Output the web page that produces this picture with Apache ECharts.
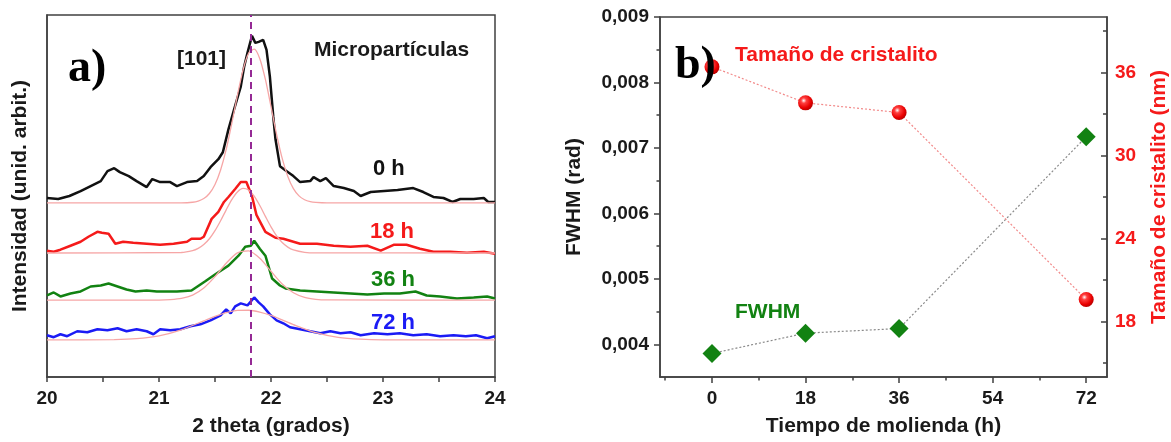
<!DOCTYPE html>
<html><head><meta charset="utf-8">
<script src="https://cdn.jsdelivr.net/npm/echarts@6.0.0/dist/echarts.min.js"></script>
<style>html,body{margin:0;padding:0;background:#fff}#c{width:1171px;height:442px}</style>
</head><body><div id="c"></div>
<script>
// ---------- Panel a) : XRD traces (2θ, intensity a.u.) ----------
const trace0h = [[20.00,180],[20.10,179],[20.20,182],[20.30,187],[20.39,192],[20.48,197],[20.54,207],[20.60,210],[20.65,206],[20.73,202],[20.80,197],[20.89,191],[20.94,199],[21.01,196],[21.10,196],[21.16,192],[21.25,196],[21.34,197],[21.40,202],[21.46,211],[21.53,219],[21.57,226],[21.62,249],[21.67,269],[21.73,292],[21.76,312],[21.79,326],[21.83,343],[21.86,336],[21.89,337],[21.93,339],[21.96,329],[21.99,302],[22.02,262],[22.04,239],[22.08,212],[22.14,207],[22.20,202],[22.26,196],[22.35,197],[22.38,201],[22.44,197],[22.49,200],[22.56,192],[22.65,190],[22.74,187],[22.80,182],[22.89,186],[23.01,187],[23.13,188],[23.27,190],[23.36,186],[23.45,181],[23.54,180],[23.62,176],[23.69,179],[23.81,179],[23.90,180],[23.94,176],[24.00,176]];
const trace18h = [[20.00,127],[20.06,126],[20.12,128],[20.21,132],[20.30,136],[20.37,141],[20.45,146],[20.49,145],[20.55,144],[20.61,134],[20.68,136],[20.77,135],[20.89,134],[21.01,133],[21.13,134],[21.25,136],[21.29,139],[21.37,139],[21.40,141],[21.47,159],[21.53,166],[21.58,176],[21.62,181],[21.68,189],[21.73,196],[21.78,196],[21.83,182],[21.87,163],[21.95,146],[22.04,140],[22.11,139],[22.26,134],[22.41,134],[22.56,132],[22.71,131],[22.86,132],[22.98,127],[23.10,133],[23.21,133],[23.33,129],[23.45,126],[23.60,126],[23.75,125],[23.90,126],[24.00,124]];
const trace36h = [[20.00,82],[20.06,85],[20.12,81],[20.21,84],[20.30,86],[20.39,91],[20.48,92],[20.55,94],[20.63,91],[20.71,88],[20.79,86],[20.89,87],[20.98,86],[21.07,86],[21.16,86],[21.29,87],[21.41,96],[21.50,103],[21.62,112],[21.71,122],[21.77,131],[21.82,132],[21.85,137],[21.90,129],[21.95,122],[22.01,99],[22.08,92],[22.13,89],[22.26,87],[22.41,86],[22.56,85],[22.71,84],[22.86,83],[23.01,84],[23.15,84],[23.29,86],[23.39,82],[23.51,81],[23.66,79],[23.81,80],[23.93,81],[24.00,79]];
const trace72h = [[20.00,42],[20.06,40],[20.12,43],[20.18,41],[20.27,46],[20.36,45],[20.45,48],[20.54,47],[20.63,49],[20.71,46],[20.80,48],[20.89,46],[20.95,43],[21.01,48],[21.10,47],[21.19,48],[21.28,51],[21.37,53],[21.46,57],[21.55,62],[21.60,68],[21.64,64],[21.68,71],[21.73,74],[21.79,72],[21.85,80],[21.89,75],[21.93,71],[21.99,63],[22.05,57],[22.11,54],[22.17,50],[22.26,48],[22.35,46],[22.44,44],[22.53,46],[22.62,44],[22.71,45],[22.80,42],[22.92,44],[23.04,43],[23.15,44],[23.27,42],[23.39,43],[23.51,41],[23.63,42],[23.74,41],[23.83,42],[23.93,39],[24.00,41]];

// fitted peak profiles (pink)
const fit0h = [[20,175],[21.2,175.1],[21.3,175.7],[21.35,176.9],[21.4,179.4],[21.45,184.5],[21.5,193.6],[21.55,208.2],[21.6,228.8],[21.65,255],[21.7,283.2],[21.75,308.6],[21.8,325.5],[21.85,329.7],[21.9,320.1],[21.95,299.2],[22.0,271.9],[22.05,244],[22.1,219.8],[22.15,201.6],[22.2,189.4],[22.25,182.1],[22.3,178.2],[22.35,176.3],[22.4,175.5],[22.5,175],[24,175]];
const fit18h = [[20,124.7],[21.2,125.2],[21.3,127],[21.35,129.3],[21.4,133.2],[21.45,139],[21.5,147.1],[21.55,157.1],[21.6,168.1],[21.65,178.4],[21.7,186.1],[21.75,189.7],[21.8,188.1],[21.85,181.9],[21.9,172.4],[21.95,161.5],[22.0,150.9],[22.05,141.9],[22.1,135.2],[22.15,130.6],[22.2,127.8],[22.3,125.4],[22.4,124.8],[24,124.7]];
const fit36h = [[20,77.3],[21.0,77.4],[21.1,77.8],[21.2,79],[21.3,82.4],[21.4,89.5],[21.5,100.9],[21.6,114.4],[21.7,124.8],[21.8,126.8],[21.9,119.3],[22.0,106.3],[22.1,93.5],[22.2,84.7],[22.3,80],[22.4,78.1],[22.5,77.5],[24,77.3]];
const fit72h = [[20,37.3],[20.6,37.6],[20.8,38.5],[21.0,41.4],[21.2,47.4],[21.4,56.5],[21.5,61],[21.6,64.8],[21.7,66.9],[21.8,67.1],[21.9,65.3],[22.0,61.9],[22.1,57.4],[22.2,52.7],[22.4,44.6],[22.6,39.9],[22.8,38],[23.0,37.4],[24,37.3]];

const peakPosition = 21.82;
const thetaLabels = [20, 21, 22, 23, 24];
const thetaTicks = [20, 20.5, 21, 21.5, 22, 22.5, 23, 23.5, 24];

// ---------- Panel b) : FWHM & crystallite size vs milling time ----------
const hours = [0, 18, 36, 72];
const fwhm = [0.00386, 0.00417, 0.00424, 0.00717];
const crystalSize = [36.4, 33.8, 33.1, 19.6];
const hourTicksMajor = [0, 18, 36, 54, 72];
const hourTicksMinor = [-9, 9, 27, 45, 63];
const fwhmTicksMajor = [0.004, 0.005, 0.006, 0.007, 0.008, 0.009];
const fwhmTicksMinor = [0.0045, 0.0055, 0.0065, 0.0075, 0.0085];
const sizeTicksMajor = [18, 24, 30, 36];
const sizeTicksMinor = [15, 21, 27, 33, 39];

const FONT = 'Liberation Sans';
const AX = '#404040';
const RED = '#f51a1a';
const GREEN = '#128212';
const BLUE = '#1b1bf5';
const FIT = '#f6a6a6';

const tickFont = {fontFamily: FONT, fontWeight: 'bold', fontSize: 19, color: '#1a1a1a'};
const nameFont = {fontFamily: FONT, fontWeight: 'bold', fontSize: 21, color: '#1a1a1a'};
const axLine = {show: true, onZero: false, lineStyle: {color: AX, width: 1.5}};
const noLine = {show: false, onZero: false};

function traceSeries(data, color, extra) {
  return Object.assign({type: 'line', xAxisIndex: 0, yAxisIndex: 0, data: data, showSymbol: false,
    lineStyle: {color: color, width: 2.5}, z: 3, silent: true}, extra || {});
}
function fitSeries(data) {
  return {type: 'line', xAxisIndex: 0, yAxisIndex: 0, data: data, showSymbol: false, smooth: 0.25,
    lineStyle: {color: FIT, width: 1.3}, z: 4, silent: true};
}

const chart = echarts.init(document.getElementById('c'), null, {renderer: 'canvas'});
chart.setOption({
  animation: false,
  backgroundColor: '#fff',
  grid: [
    {left: 47, top: 15, width: 448, height: 364, show: true, borderColor: AX, borderWidth: 1.5, backgroundColor: 'transparent'},
    {left: 660, top: 17, width: 447, height: 363, show: true, borderColor: AX, borderWidth: 1.5, backgroundColor: 'transparent'}
  ],
  xAxis: [
    {type: 'value', gridIndex: 0, position: 'bottom', min: 20, max: 24, axisLine: axLine, splitLine: {show: false},
      axisTick: {customValues: thetaTicks, length: 5, lineStyle: {color: AX, width: 1.5}},
      axisLabel: Object.assign({customValues: thetaLabels, margin: 12}, tickFont),
      name: '2 theta (grados)', nameLocation: 'middle', nameGap: 39, nameTextStyle: nameFont},
    {type: 'value', gridIndex: 1, position: 'bottom', min: -10, max: 76, axisLine: axLine, splitLine: {show: false},
      axisTick: {customValues: hourTicksMajor, length: 6, lineStyle: {color: AX, width: 1.5}},
      axisLabel: Object.assign({customValues: hourTicksMajor, margin: 12}, tickFont),
      name: 'Tiempo de molienda (h)', nameLocation: 'middle', nameGap: 39, nameTextStyle: nameFont},
    {type: 'value', gridIndex: 1, position: 'bottom', min: -10, max: 76, axisLine: noLine, splitLine: {show: false},
      axisTick: {customValues: hourTicksMinor, length: 3.5, lineStyle: {color: AX, width: 1.5}},
      axisLabel: {show: false}}
  ],
  yAxis: [
    {type: 'value', gridIndex: 0, position: 'left', min: 0, max: 364, axisLine: axLine, splitLine: {show: false},
      axisTick: {show: false}, axisLabel: {show: false},
      name: 'Intensidad (unid. arbit.)', nameLocation: 'middle', nameGap: 16, nameTextStyle: nameFont},
    {type: 'value', gridIndex: 1, position: 'left', min: 0.0035, max: 0.009, axisLine: axLine, splitLine: {show: false},
      axisTick: {customValues: fwhmTicksMajor, length: 6, lineStyle: {color: AX, width: 1.5}},
      axisLabel: Object.assign({customValues: fwhmTicksMajor, margin: 11, formatter: v => v.toFixed(3).replace('.', ',')}, tickFont),
      name: 'FWHM (rad)', nameLocation: 'middle', nameGap: 75, nameTextStyle: nameFont},
    {type: 'value', gridIndex: 1, position: 'left', min: 0.0035, max: 0.009, axisLine: noLine, splitLine: {show: false},
      axisTick: {customValues: fwhmTicksMinor, length: 3.5, lineStyle: {color: AX, width: 1.5}}, axisLabel: {show: false}},
    {type: 'value', gridIndex: 1, position: 'right', min: 14, max: 40, axisLine: axLine, splitLine: {show: false},
      axisTick: {customValues: sizeTicksMajor, inside: true, length: 6, lineStyle: {color: AX, width: 1.5}},
      axisLabel: Object.assign({customValues: sizeTicksMajor, margin: 8}, tickFont, {color: RED}),
      name: 'Tamaño de cristalito (nm)', nameLocation: 'middle', nameGap: 42, nameTextStyle: Object.assign({}, nameFont, {color: RED})},
    {type: 'value', gridIndex: 1, position: 'right', min: 14, max: 40, axisLine: noLine, splitLine: {show: false},
      axisTick: {customValues: sizeTicksMinor, inside: true, length: 4, lineStyle: {color: AX, width: 1.5}}, axisLabel: {show: false}}
  ],
  series: [
    traceSeries(trace0h, '#111111', {
      markLine: {silent: true, symbol: ['none', 'none'], label: {show: false},
        lineStyle: {color: '#952a95', type: [7, 5], width: 2}, data: [{xAxis: peakPosition}]}
    }),
    traceSeries(trace18h, RED),
    traceSeries(trace36h, GREEN),
    traceSeries(trace72h, BLUE),
    fitSeries(fit0h), fitSeries(fit18h), fitSeries(fit36h), fitSeries(fit72h),
    {type: 'line', xAxisIndex: 1, yAxisIndex: 1, data: hours.map((h, i) => [h, fwhm[i]]),
      symbol: 'diamond', symbolSize: 19, itemStyle: {color: GREEN},
      lineStyle: {color: '#8a8a8a', type: [2, 2], width: 1.2}, z: 5},
    {type: 'line', xAxisIndex: 1, yAxisIndex: 3, data: hours.map((h, i) => [h, crystalSize[i]]),
      symbol: 'circle', symbolSize: 15,
      itemStyle: {color: {type: 'radial', x: 0.38, y: 0.35, r: 0.7, colorStops: [
        {offset: 0, color: '#ffffff'}, {offset: 0.25, color: '#ff4040'}, {offset: 0.7, color: '#e80000'}, {offset: 1, color: '#b00000'}]}},
      lineStyle: {color: '#f28a8a', type: [2, 2], width: 1.2}, z: 5}
  ],
  graphic: [
    {type: 'text', x: 68, y: 69, z: 100, style: {text: 'a)', font: 'bold 46px "Liberation Serif"', fill: '#000', textVerticalAlign: 'middle'}},
    {type: 'text', x: 177, y: 59, z: 100, style: {text: '[101]', font: 'bold 21px "Liberation Sans"', fill: '#1a1a1a', textVerticalAlign: 'middle'}},
    {type: 'text', x: 314, y: 50, z: 100, style: {text: 'Micropartículas', font: 'bold 21px "Liberation Sans"', fill: '#1a1a1a', textVerticalAlign: 'middle'}},
    {type: 'text', x: 373, y: 169, z: 100, style: {text: '0 h', font: 'bold 22px "Liberation Sans"', fill: '#111', textVerticalAlign: 'middle'}},
    {type: 'text', x: 370, y: 232, z: 100, style: {text: '18 h', font: 'bold 22px "Liberation Sans"', fill: RED, textVerticalAlign: 'middle'}},
    {type: 'text', x: 371, y: 280, z: 100, style: {text: '36 h', font: 'bold 22px "Liberation Sans"', fill: GREEN, textVerticalAlign: 'middle'}},
    {type: 'text', x: 371, y: 323, z: 100, style: {text: '72 h', font: 'bold 22px "Liberation Sans"', fill: BLUE, textVerticalAlign: 'middle'}},
    {type: 'text', x: 675, y: 66, z: 100, style: {text: 'b)', font: 'bold 46px "Liberation Serif"', fill: '#000', textVerticalAlign: 'middle'}},
    {type: 'text', x: 735, y: 55, z: 100, style: {text: 'Tamaño de cristalito', font: 'bold 21px "Liberation Sans"', fill: RED, textVerticalAlign: 'middle'}},
    {type: 'text', x: 735, y: 312, z: 100, style: {text: 'FWHM', font: 'bold 21px "Liberation Sans"', fill: GREEN, textVerticalAlign: 'middle'}}
  ]
});
</script></body></html>
